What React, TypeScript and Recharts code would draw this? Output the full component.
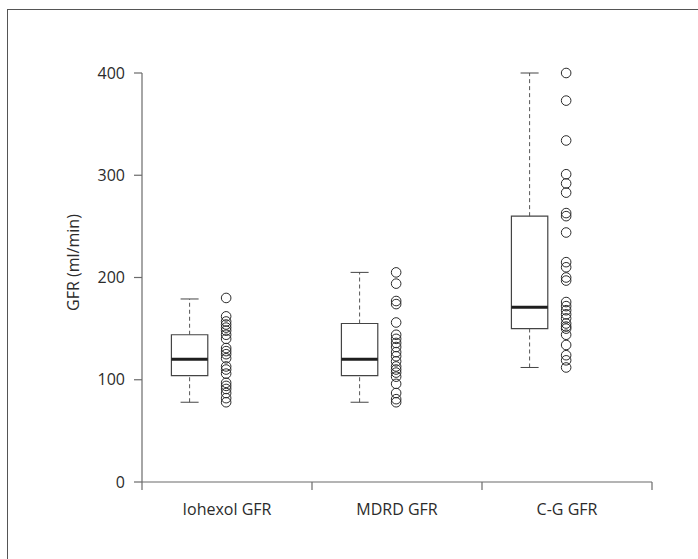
import {
  ComposedChart,
  Scatter,
  XAxis,
  YAxis,
  ReferenceArea,
  ReferenceLine,
} from "recharts";

const categories = ["Iohexol GFR", "MDRD GFR", "C-G GFR"];
const whiskerLow = [78, 78, 112];
const q1 = [104, 104, 150];
const medians = [120, 120, 171];
const q3 = [144, 155, 260];
const whiskerHigh = [179, 205, 400];

const iohexolValues = [180, 162, 157, 154, 151, 148, 144, 140, 131, 128, 125, 121, 113, 110, 106, 97, 94, 91, 87, 82, 78];
const mdrdValues = [205, 194, 177, 174, 156, 144, 140, 136, 132, 127, 123, 118, 113, 110, 107, 103, 96, 87, 81, 78];
const cgValues = [400, 373, 334, 301, 292, 283, 263, 260, 244, 215, 210, 200, 197, 176, 172, 168, 164, 160, 155, 152, 150, 144, 134, 124, 119, 112];

const yTicks = [0, 100, 200, 300, 400];

const AXIS = "#6b6b6b";
const INK = "#2b2b2b";
const FONT = "'Open Sans', sans-serif";

// band layout: box left of centre, raw points at centre
const BOX_LEFT = 0.173;
const BOX_RIGHT = 0.387;
const BOX_MID = (BOX_LEFT + BOX_RIGHT) / 2;
const CAP_HALF = 0.053;
const POINT_X = 0.495;

const groups = [iohexolValues, mdrdValues, cgValues];

function CategoryTick(props: any) {
  const { x, y, payload } = props;
  const v = payload.value as number;
  if (Number.isInteger(v)) {
    return <line x1={x} y1={y} x2={x} y2={y + 8} stroke={AXIS} strokeWidth={1.2} />;
  }
  return (
    <text x={x} y={y + 33} textAnchor="middle" fill={INK} fontSize={16} fontFamily={FONT}>
      {categories[Math.floor(v)]}
    </text>
  );
}

function YTitle(props: any) {
  const { x, y, height } = props.viewBox;
  const cx = x - 9;
  const cy = y + height / 2 - 15;
  return (
    <text
      x={cx}
      y={cy}
      transform={`rotate(-90 ${cx} ${cy})`}
      textAnchor="middle"
      dominantBaseline="central"
      fill={INK}
      fontSize={16}
      fontFamily={FONT}
    >
      GFR (ml/min)
    </text>
  );
}

const ring = (p: any) => (
  <circle cx={p.cx} cy={p.cy} r={4.8} fill="none" stroke={INK} strokeWidth={1} />
);

export default function App() {
  return (
    <div style={{ position: "absolute", left: 0, top: 0, width: 698, height: 559, background: "#fff" }}>
      <div
        style={{
          position: "absolute",
          left: 7,
          top: 9,
          width: 700,
          height: 560,
          borderLeft: "1px solid #555",
          borderTop: "1px solid #555",
        }}
      />
      <ComposedChart
        width={698}
        height={559}
        margin={{ top: 73, right: 46, bottom: 47, left: 82 }}
        style={{ fontFamily: FONT }}
      >
        <XAxis
          type="number"
          dataKey="x"
          domain={[0, 3]}
          ticks={[0, 0.5, 1, 1.5, 2, 2.5, 3]}
          interval={0}
          height={30}
          tickSize={0}
          tickMargin={0}
          tickLine={false}
          axisLine={{ stroke: AXIS, strokeWidth: 1.2 }}
          tick={<CategoryTick />}
        />
        <YAxis
          type="number"
          dataKey="y"
          domain={[0, 400]}
          ticks={yTicks}
          width={60}
          tickSize={8}
          tickMargin={9}
          axisLine={{ stroke: AXIS, strokeWidth: 1.2 }}
          tickLine={{ stroke: AXIS, strokeWidth: 1.2 }}
          tick={{ fill: INK, fontSize: 16, fontFamily: FONT }}
          label={<YTitle />}
        />

        {categories.map((_, i) => (
          <ReferenceLine
            key={`wh-${i}`}
            segment={[
              { x: i + BOX_MID, y: q3[i] },
              { x: i + BOX_MID, y: whiskerHigh[i] },
            ]}
            stroke="#555"
            strokeDasharray="4 3"
          />
        ))}
        {categories.map((_, i) => (
          <ReferenceLine
            key={`wl-${i}`}
            segment={[
              { x: i + BOX_MID, y: whiskerLow[i] },
              { x: i + BOX_MID, y: q1[i] },
            ]}
            stroke="#555"
            strokeDasharray="4 3"
          />
        ))}
        {categories.map((_, i) => (
          <ReferenceLine
            key={`ch-${i}`}
            segment={[
              { x: i + BOX_MID - CAP_HALF, y: whiskerHigh[i] },
              { x: i + BOX_MID + CAP_HALF, y: whiskerHigh[i] },
            ]}
            stroke="#444"
          />
        ))}
        {categories.map((_, i) => (
          <ReferenceLine
            key={`cl-${i}`}
            segment={[
              { x: i + BOX_MID - CAP_HALF, y: whiskerLow[i] },
              { x: i + BOX_MID + CAP_HALF, y: whiskerLow[i] },
            ]}
            stroke="#444"
          />
        ))}
        {categories.map((_, i) => (
          <ReferenceArea
            key={`box-${i}`}
            x1={i + BOX_LEFT}
            x2={i + BOX_RIGHT}
            y1={q1[i]}
            y2={q3[i]}
            fill="#fff"
            fillOpacity={1}
            stroke="#444"
            strokeWidth={1.2}
          />
        ))}
        {categories.map((_, i) => (
          <ReferenceLine
            key={`med-${i}`}
            segment={[
              { x: i + BOX_LEFT, y: medians[i] },
              { x: i + BOX_RIGHT, y: medians[i] },
            ]}
            stroke="#1e1e1e"
            strokeWidth={3}
          />
        ))}

        {groups.map((vals, i) => (
          <Scatter
            key={`pts-${i}`}
            data={vals.map((v) => ({ x: i + POINT_X, y: v }))}
            shape={ring}
            isAnimationActive={false}
          />
        ))}
      </ComposedChart>
    </div>
  );
}
